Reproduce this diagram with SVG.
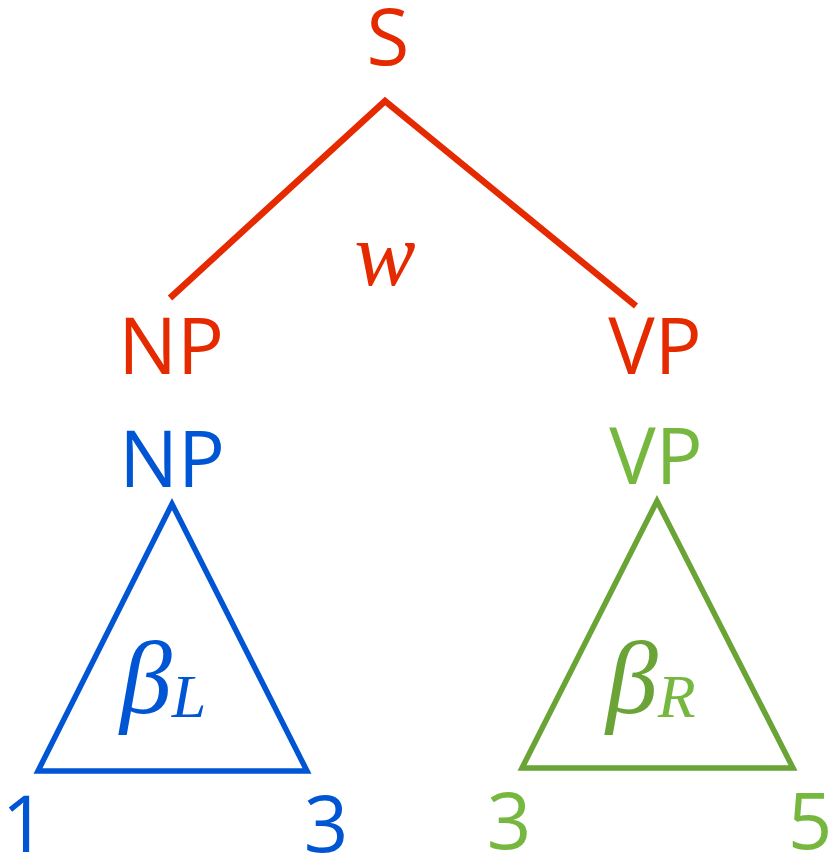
<svg xmlns="http://www.w3.org/2000/svg" width="831" height="856" viewBox="0 0 831 856">
  <style>
    .lab { font-family: "Open Sans", "Noto Sans", sans-serif; font-size: 78px; text-anchor: middle; }
    .num { font-family: "Open Sans", "Noto Sans", sans-serif; font-size: 78px; text-anchor: middle; }
    .math { font-family: "Liberation Serif", "DejaVu Serif", serif; font-style: italic; }
    .red { fill: #E52A00; }
    .blue { fill: #0055D4; }
    .green { fill: #76B83F; }
    .greenDark { fill: #6AA336; }
    .edge { stroke: #E52A00; stroke-width: 6.5; fill: none; }
    .tri { fill: none; stroke-width: 5.5; }
  </style>
  <rect width="831" height="856" fill="#FFFFFF"/>

  <g id="edges">
    <polyline class="edge" points="170,298 385,101 636,306"/>
  </g>

  <g id="node-S">
    <text class="lab red" x="388" y="65">S</text>
  </g>

  <g id="weight-w">
    <text class="math red" x="385" y="285" font-size="92" text-anchor="middle">w</text>
  </g>

  <g id="node-NP-top">
    <text class="lab red" x="171" y="374">NP</text>
  </g>

  <g id="node-VP-top">
    <text class="lab red" x="655" y="374">VP</text>
  </g>

  <g id="node-NP-left">
    <text class="lab blue" x="172" y="487">NP</text>
    <polygon class="tri" stroke="#0055D4" points="172,504 38,771 307,771"/>
    <text class="math blue" x="120" y="713" font-size="104">β<tspan font-size="62" dy="4">L</tspan></text>
    <text class="num blue" x="24" y="852">1</text>
    <text class="num blue" x="326" y="852">3</text>
  </g>

  <g id="node-VP-right">
    <text class="lab green" x="656" y="484">VP</text>
    <polygon class="tri" stroke="#6AA336" points="657,501 522,768 793,768"/>
    <text class="math greenDark" x="606" y="713" font-size="104">β<tspan class="green" font-size="62" dy="4">R</tspan></text>
    <text class="num green" x="509" y="849">3</text>
    <text class="num green" x="810" y="849">5</text>
  </g>
</svg>
